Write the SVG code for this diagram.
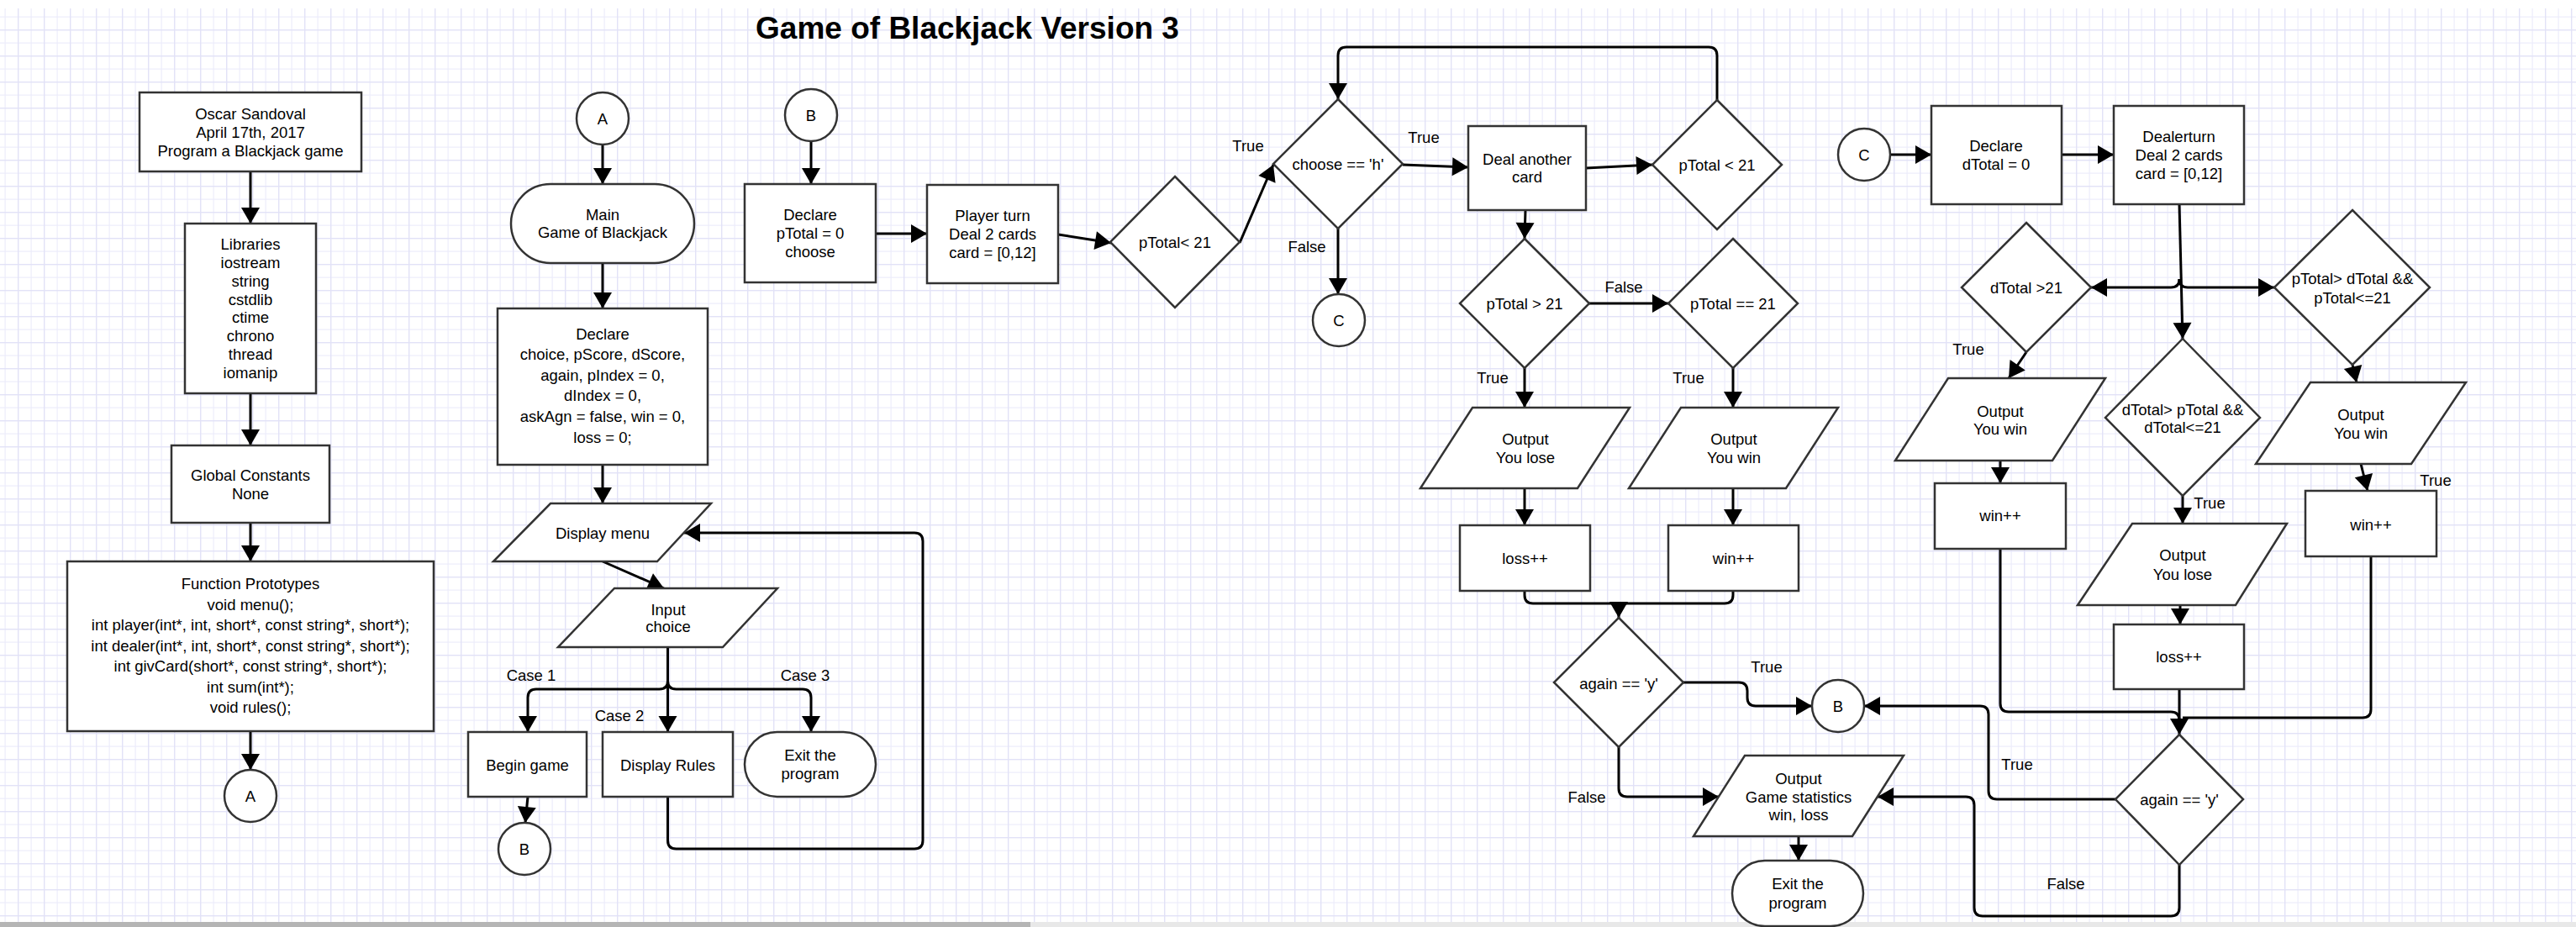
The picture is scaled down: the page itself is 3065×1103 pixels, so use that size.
<svg xmlns="http://www.w3.org/2000/svg" width="3065" height="1103" viewBox="0 0 3065 1103">
<defs>
<pattern id="grid" patternUnits="userSpaceOnUse" x="21" y="4" width="31" height="31">
<rect x="0" y="0" width="31" height="31" fill="#ffffff"/>
<rect x="15.5" y="0" width="1.2" height="31" fill="#ededfb"/>
<rect x="0" y="15.5" width="31" height="1.2" fill="#ededfb"/>
<rect x="0" y="0" width="1.4" height="31" fill="#e2e2f7"/>
<rect x="0" y="0" width="31" height="1.4" fill="#e2e2f7"/>
</pattern>
<marker id="ah" markerUnits="userSpaceOnUse" markerWidth="24" markerHeight="24" viewBox="0 0 24 24" refX="21" refY="12" orient="auto">
<path d="M2,1 L21,12 L2,23 Z" fill="#000"/>
</marker>
<style>
.s{fill:#fff;stroke:#333;stroke-width:2.5}
.t{font-family:"Liberation Sans",Arial,sans-serif;font-size:18.5px;fill:#000;text-anchor:middle}
.l{font-family:"Liberation Sans",Arial,sans-serif;font-size:18.5px;fill:#000;text-anchor:middle}
.c{fill:none;stroke:#000;stroke-width:3}
.a{marker-end:url(#ah)}
.title{font-family:"Liberation Sans",Arial,sans-serif;font-size:37px;font-weight:bold;fill:#000;text-anchor:middle}
</style>
</defs>
<rect x="0" y="0" width="3065" height="1103" fill="#fff"/>
<rect x="0" y="10" width="3065" height="1087" fill="url(#grid)"/>
<rect x="0" y="1097" width="3065" height="6" fill="#e8e8e8"/>
<rect x="0" y="1097" width="1226" height="6" fill="#b5b5b5"/>

<text class="title" x="1151" y="46">Game of Blackjack Version 3</text>

<g id="connectors">
<path class="c a" d="M298,204 V266"/>
<path class="c a" d="M298,468 V530"/>
<path class="c a" d="M298,622 V668"/>
<path class="c a" d="M298,870 V916"/>
<path class="c a" d="M717,172 V219"/>
<path class="c a" d="M717,313 V367"/>
<path class="c a" d="M717,553 V599"/>
<path class="c a" d="M717,668 L790,700"/>
<path class="c a" d="M794.5,770 V810 Q794.5,820 784.5,820 H638 Q628,820 628,830 V871"/>
<path class="c a" d="M794.5,770 V871"/>
<path class="c a" d="M794.5,810 Q794.5,820 804.5,820 H955 Q965,820 965,830 V871"/>
<path class="c a" d="M628,948 L625,979"/>
<path class="c a" d="M794.5,948 V1000 Q794.5,1010 804.5,1010 H1088 Q1098,1010 1098,1000 V644 Q1098,634 1088,634 H814"/>
<path class="c a" d="M965,168 V219"/>
<path class="c a" d="M1042,278 H1103"/>
<path class="c a" d="M1259,279 L1322,289"/>
<path class="c a" d="M1475,289 L1515,196"/>
<path class="c a" d="M1592,272 V350"/>
<path class="c a" d="M1669,196 L1747,199"/>
<path class="c a" d="M1887,200 L1966,196"/>
<path class="c a" d="M2043,119 V66 Q2043,56 2033,56 H1602 Q1592,56 1592,66 V118"/>
<path class="c a" d="M1815,250 L1814,284"/>
<path class="c a" d="M1891,361 H1985"/>
<path class="c a" d="M1814,438 V485"/>
<path class="c a" d="M2062,438 V485"/>
<path class="c a" d="M1814,581 V625"/>
<path class="c a" d="M2062,581 V625"/>
<path class="c" d="M1814,703 V708 Q1814,718 1824,718 H1926"/>
<path class="c a" d="M2062,703 V708 Q2062,718 2052,718 H1936 Q1926,718 1926,726 V735"/>
<path class="c a" d="M2003,812 H2069 Q2079,812 2079,822 V830 Q2079,840 2089,840 H2156"/>
<path class="c a" d="M1926,889 V938 Q1926,948 1936,948 H2045"/>
<path class="c a" d="M2140,995 V1024"/>
<path class="c a" d="M2249,184 H2298"/>
<path class="c a" d="M2453,184 H2515"/>
<path class="c a" d="M2593,243 L2597,403"/>
<path class="c a" d="M2593,332 Q2593,342 2583,342 H2488"/>
<path class="c a" d="M2593,332 Q2593,342 2603,342 H2706"/>
<path class="c a" d="M2411,419 L2390,450"/>
<path class="c a" d="M2380,548 V575"/>
<path class="c a" d="M2799,434 L2804,455"/>
<path class="c a" d="M2809,552 L2817,584"/>
<path class="c a" d="M2597,590 V623"/>
<path class="c a" d="M2594,720 V743"/>
<path class="c" d="M2380,653 V837 Q2380,847 2390,847 H2583 Q2593,847 2593,857"/>
<path class="c" d="M2821,662 V844 Q2821,854 2811,854 H2597"/>
<path class="c a" d="M2593,820 V874"/>
<path class="c a" d="M2517,951 H2376 Q2366,951 2366,941 V850 Q2366,840 2356,840 H2218"/>
<path class="c a" d="M2593,1029 V1080 Q2593,1090 2583,1090 H2359 Q2349,1090 2349,1080 V958 Q2349,948 2339,948 H2234"/>
</g>

<g id="labels">
<text class="l" x="632" y="810">Case 1</text>
<text class="l" x="737" y="858">Case 2</text>
<text class="l" x="958" y="810">Case 3</text>
<text class="l" x="1485" y="179.5">True</text>
<text class="l" x="1694" y="169.5">True</text>
<text class="l" x="1555" y="299.5">False</text>
<text class="l" x="1932" y="347.5">False</text>
<text class="l" x="1776" y="455.5">True</text>
<text class="l" x="2009" y="455.5">True</text>
<text class="l" x="2102" y="799.5">True</text>
<text class="l" x="1888" y="954.5">False</text>
<text class="l" x="2342" y="422">True</text>
<text class="l" x="2898" y="577.5">True</text>
<text class="l" x="2629" y="605">True</text>
<text class="l" x="2400" y="915.5">True</text>
<text class="l" x="2458" y="1057.5">False</text>
</g>

<g id="n_info"><rect class="s" x="166" y="110" width="264" height="94"/>
<text class="t" x="298" y="141.5">Oscar Sandoval</text><text class="t" x="298" y="163.5">April 17th, 2017</text><text class="t" x="298" y="185.5">Program a Blackjack game</text></g>
<g id="n_libs"><rect class="s" x="220" y="266" width="156" height="202"/>
<text class="t" x="298" y="297.2">Libraries</text><text class="t" x="298" y="319">iostream</text><text class="t" x="298" y="340.8">string</text><text class="t" x="298" y="362.6">cstdlib</text><text class="t" x="298" y="384.4">ctime</text><text class="t" x="298" y="406.2">chrono</text><text class="t" x="298" y="428">thread</text><text class="t" x="298" y="449.8">iomanip</text></g>
<g id="n_global"><rect class="s" x="204" y="530" width="188" height="92"/>
<text class="t" x="298" y="571.5">Global Constants</text><text class="t" x="298" y="593.5">None</text></g>
<g id="n_proto"><rect class="s" x="80" y="668" width="436" height="202"/>
<text class="t" x="298" y="701.2">Function Prototypes</text><text class="t" x="298" y="725.7">void menu();</text><text class="t" x="298" y="750.2">int player(int*, int, short*, const string*, short*);</text><text class="t" x="298" y="774.7">int dealer(int*, int, short*, const string*, short*);</text><text class="t" x="298" y="799.2">int givCard(short*, const string*, short*);</text><text class="t" x="298" y="823.7">int sum(int*);</text><text class="t" x="298" y="848.2">void rules();</text></g>
<g id="n_A1"><circle class="s" cx="298" cy="947" r="31"/><text class="t" x="298" y="953.5">A</text></g>

<g id="n_A2"><circle class="s" cx="717" cy="141" r="31"/><text class="t" x="717" y="147.5">A</text></g>
<g id="n_main"><rect class="s" x="608" y="219" width="218" height="94" rx="47" ry="47"/>
<text class="t" x="717" y="262">Main</text><text class="t" x="717" y="283">Game of Blackjack</text></g>
<g id="n_decl"><rect class="s" x="592" y="367" width="250" height="186"/>
<text class="t" x="717" y="403.5">Declare</text><text class="t" x="717" y="428.1">choice, pScore, dScore,</text><text class="t" x="717" y="452.7">again, pIndex = 0,</text><text class="t" x="717" y="477.3">dIndex = 0,</text><text class="t" x="717" y="501.9">askAgn = false, win = 0,</text><text class="t" x="717" y="526.5">loss = 0;</text></g>
<g id="n_menu"><polygon class="s" points="655,599 846,599 782,668 587,668"/><text class="t" x="717" y="640.5">Display menu</text></g>
<g id="n_input"><polygon class="s" points="731,700 925,700 860,770 664,770"/><text class="t" x="795" y="731.5">Input</text><text class="t" x="795" y="751.5">choice</text></g>
<g id="n_begin"><rect class="s" x="557" y="871" width="141" height="77"/><text class="t" x="627.5" y="916.5">Begin game</text></g>
<g id="n_rules"><rect class="s" x="717" y="871" width="155" height="77"/><text class="t" x="794.5" y="916.5">Display Rules</text></g>
<g id="n_exit1"><rect class="s" x="886" y="871" width="156" height="77" rx="38.5" ry="38.5"/><text class="t" x="964" y="905">Exit the</text><text class="t" x="964" y="927.3">program</text></g>
<g id="n_B1"><circle class="s" cx="624" cy="1010" r="31"/><text class="t" x="624" y="1016.5">B</text></g>

<g id="n_B2"><circle class="s" cx="965" cy="137" r="31"/><text class="t" x="965" y="143.5">B</text></g>
<g id="n_declp"><rect class="s" x="886" y="219" width="156" height="117"/>
<text class="t" x="964" y="261.5">Declare</text><text class="t" x="964" y="284">pTotal = 0</text><text class="t" x="964" y="306">choose</text></g>
<g id="n_player"><rect class="s" x="1103" y="220" width="156" height="117"/>
<text class="t" x="1181" y="263">Player turn</text><text class="t" x="1181" y="284.5">Deal 2 cards</text><text class="t" x="1181" y="306.5">card = [0,12]</text></g>
<g id="n_d1"><polygon class="s" points="1398,210 1475,288 1398,366 1321,288"/><text class="t" x="1398" y="294.5">pTotal&lt; 21</text></g>
<g id="n_choose"><polygon class="s" points="1592,118 1669,195 1592,272 1515,195"/><text class="t" x="1592" y="202">choose == 'h'</text></g>
<g id="n_C1"><circle class="s" cx="1593" cy="381" r="31"/><text class="t" x="1593" y="387.5">C</text></g>
<g id="n_deal"><rect class="s" x="1747" y="150" width="140" height="100"/><text class="t" x="1817" y="196">Deal another</text><text class="t" x="1817" y="217">card</text></g>
<g id="n_d3"><polygon class="s" points="2043,119 2120,196 2043,273 1966,196"/><text class="t" x="2043" y="202.5">pTotal &lt; 21</text></g>
<g id="n_d4"><polygon class="s" points="1814,284 1891,361 1814,438 1737,361"/><text class="t" x="1814" y="367.5">pTotal &gt; 21</text></g>
<g id="n_d5"><polygon class="s" points="2062,284 2139,361 2062,438 1985,361"/><text class="t" x="2062" y="367.5">pTotal == 21</text></g>
<g id="n_outlose1"><polygon class="s" points="1752,485 1939,485 1877,581 1690,581"/><text class="t" x="1815" y="529">Output</text><text class="t" x="1815" y="551">You lose</text></g>
<g id="n_outwin1"><polygon class="s" points="2000,485 2187,485 2125,581 1938,581"/><text class="t" x="2063" y="529">Output</text><text class="t" x="2063" y="551">You win</text></g>
<g id="n_loss1"><rect class="s" x="1737" y="625" width="155" height="78"/><text class="t" x="1814.5" y="670.8">loss++</text></g>
<g id="n_win1"><rect class="s" x="1985" y="625" width="155" height="78"/><text class="t" x="2062.5" y="670.8">win++</text></g>
<g id="n_again1"><polygon class="s" points="1926,735 2003,812 1926,889 1849,812"/><text class="t" x="1926" y="819.5">again == 'y'</text></g>
<g id="n_B3"><circle class="s" cx="2187" cy="840" r="31"/><text class="t" x="2187" y="846.5">B</text></g>
<g id="n_stats"><polygon class="s" points="2076,899 2265,899 2204,995 2015,995"/><text class="t" x="2140" y="933">Output</text><text class="t" x="2140" y="955">Game statistics</text><text class="t" x="2140" y="976">win, loss</text></g>
<g id="n_exit2"><rect class="s" x="2061" y="1024" width="156" height="78" rx="39" ry="39"/><text class="t" x="2139" y="1058">Exit the</text><text class="t" x="2139" y="1080.5">program</text></g>

<g id="n_C2"><circle class="s" cx="2218" cy="184" r="31"/><text class="t" x="2218" y="190.5">C</text></g>
<g id="n_decld"><rect class="s" x="2298" y="126" width="155" height="117"/><text class="t" x="2375" y="180">Declare</text><text class="t" x="2375" y="202">dTotal = 0</text></g>
<g id="n_dealer"><rect class="s" x="2515" y="126" width="155" height="117"/><text class="t" x="2592.5" y="169.3">Dealerturn</text><text class="t" x="2592.5" y="191">Deal 2 cards</text><text class="t" x="2592.5" y="213.3">card = [0,12]</text></g>
<g id="n_d6"><polygon class="s" points="2411,265 2488,342 2411,419 2334,342"/><text class="t" x="2411" y="349">dTotal &gt;21</text></g>
<g id="n_d7"><polygon class="s" points="2799,250 2891,342 2799,434 2706,342"/><text class="t" x="2799" y="338.3">pTotal&gt; dTotal &amp;&amp;</text><text class="t" x="2799" y="360.5">pTotal&lt;=21</text></g>
<g id="n_d8"><polygon class="s" points="2597,403 2689,497 2597,590 2505,497"/><text class="t" x="2597" y="493.5">dTotal&gt; pTotal &amp;&amp;</text><text class="t" x="2597" y="514.5">dTotal&lt;=21</text></g>
<g id="n_outwin2"><polygon class="s" points="2318,450 2505,450 2442,548 2255,548"/><text class="t" x="2380" y="495.5">Output</text><text class="t" x="2380" y="517">You win</text></g>
<g id="n_win2"><rect class="s" x="2302" y="575" width="156" height="78"/><text class="t" x="2380" y="620">win++</text></g>
<g id="n_outwin3"><polygon class="s" points="2749,455 2934,455 2869,552 2684,552"/><text class="t" x="2809" y="500">Output</text><text class="t" x="2809" y="521.5">You win</text></g>
<g id="n_win3"><rect class="s" x="2743" y="584" width="156" height="78"/><text class="t" x="2821" y="630.5">win++</text></g>
<g id="n_outlose2"><polygon class="s" points="2537,623 2721,623 2660,720 2472,720"/><text class="t" x="2597" y="667">Output</text><text class="t" x="2597" y="689.5">You lose</text></g>
<g id="n_loss2"><rect class="s" x="2515" y="743" width="155" height="77"/><text class="t" x="2592.5" y="788">loss++</text></g>
<g id="n_again2"><polygon class="s" points="2593,874 2669,951 2593,1029 2517,951"/><text class="t" x="2593" y="957.5">again == 'y'</text></g>
</svg>
